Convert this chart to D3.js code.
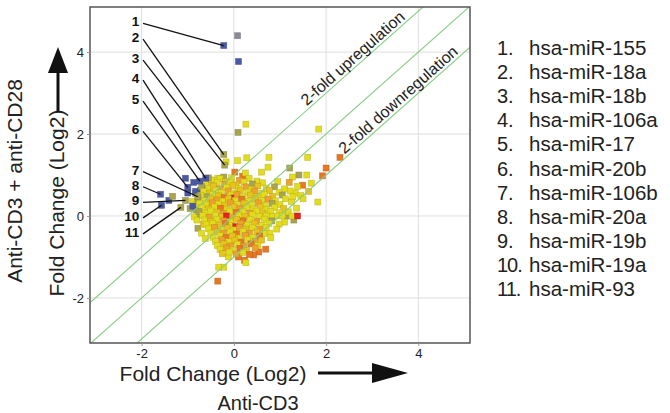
<!DOCTYPE html>
<html>
<head>
<meta charset="utf-8">
<script src="https://cdn.jsdelivr.net/npm/d3@7"></script>
<style>
body { margin: 0; background: #fff; }
svg { font-family: "Liberation Sans", Arial, sans-serif; }
</style>
</head>
<body>
<div id="viz"></div>
<script>
const width = 670, height = 413;

// axis ticks and fold-change guide lines (y = x + offset)
const ticks = [-2, 0, 2, 4];
const foldLines = [1, 0, -1];

// the 11 labelled miRNAs: name, log2 FC anti-CD3 (x), anti-CD3+CD28 (y), colour class
const mirNames = ["hsa-miR-155", "hsa-miR-18a", "hsa-miR-18b", "hsa-miR-106a", "hsa-miR-17",
  "hsa-miR-20b", "hsa-miR-106b", "hsa-miR-20a", "hsa-miR-19b", "hsa-miR-19a", "hsa-miR-93"];
const mirX = [-0.22, -0.22, -0.2, -0.61, -0.74, -1.0, -0.78, -1.59, -1.05, -1.57, -1.15];
const mirY = [4.16, 1.5, 1.24, 0.92, 0.85, 0.7, 0.47, 0.53, 0.38, 0.26, 0.21];
const mirCat = ["b", "v", "v", "b", "b", "b", "v", "b", "v", "b", "v"];
// where the numbers sit on the y scale
const labelY = [4.63, 4.24, 3.73, 3.24, 2.73, 1.99, 1.01, 0.64, 0.26, -0.12, -0.51];

// all other miRNAs [x, y, colour class]
const cloud = [
  [0.08,4.4,"k"],[0.1,3.77,"b"],[0.26,2.24,"y"],[0.09,2.04,"v"],[1.84,2.12,"y"],
  [-0.17,1.32,"y"],[0.08,1.35,"y"],[0.28,1.42,"y"],[0.76,1.43,"y"],[0.74,1.19,"y"],[1.6,1.43,"y"],[2.3,1.43,"d"],
  [0.02,1.07,"d"],[0.19,0.97,"d"],[0.25,1.05,"y"],[0.6,1.07,"y"],[1.21,1.17,"v"],[1.27,0.95,"y"],[1.41,1.0,"v"],
  [1.58,1.0,"y"],[2.0,1.17,"d"],[1.92,0.98,"d"],[1.68,0.8,"y"],[1.49,0.75,"d"],[1.38,0.72,"y"],[1.33,0.56,"y"],
  [1.45,0.5,"y"],[1.82,0.34,"y"],[1.36,0.19,"y"],[1.16,0.0,"v"],[1.25,0.35,"y"],[1.5,0.42,"y"],[1.62,0.6,"g"],
  [1.1,-0.15,"y"],[1.3,-0.1,"v"],[0.98,-0.2,"y"],[1.2,0.82,"o"],
  [0.93,-0.32,"y"],[0.78,-0.42,"y"],[0.8,-0.53,"y"],[0.69,-0.81,"d"],[0.54,-0.88,"d"],[0.43,-0.95,"d"],
  [0.23,-1.08,"d"],[0.26,-1.14,"y"],[0.1,-1.0,"d"],[-0.12,-1.0,"y"],[-0.22,-1.25,"y"],[-0.33,-1.25,"y"],[-0.35,-1.59,"d"],
  [-0.35,0.92,"y"],[-0.5,0.88,"y"],[-0.22,0.95,"v"],
  [-0.83,0.55,"v"],[-0.9,0.35,"y"],[-0.82,0.15,"v"],[-0.86,-0.02,"y"],[-0.78,-0.3,"v"],[-0.7,-0.42,"y"],
  [-0.62,-0.55,"y"],[-0.95,0.18,"v"],[-0.76,0.28,"y"],[-0.8,-0.1,"y"],[-0.66,-0.2,"g"],[-0.72,0.05,"v"],
  [-1.05,0.92,"b"],[-0.87,0.82,"b"],[-0.66,0.77,"b"],[-0.83,0.6,"b"],[-0.72,0.63,"b"],[-1.0,0.56,"b"],
  [-1.41,0.38,"b"],[-0.89,0.24,"b"],[-1.33,0.48,"v"],
  [-0.55,0.93,"v"],[-0.42,0.86,"y"],[-0.3,0.91,"y"],[-0.18,0.84,"g"],[-0.05,0.93,"y"],[0.12,0.87,"o"],[0.33,0.92,"y"],[0.5,0.85,"y"],
  [-0.62,0.79,"y"],[-0.48,0.75,"g"],[-0.36,0.82,"y"],[-0.2,0.77,"o"],[-0.08,0.81,"y"],[0.05,0.76,"g"],[0.22,0.83,"y"],[0.4,0.78,"v"],[0.62,0.81,"y"],[0.95,0.84,"y"],
  [-0.7,0.72,"v"],[-0.55,0.67,"y"],[-0.44,0.73,"g"],[-0.31,0.66,"o"],[-0.16,0.7,"y"],[-0.02,0.74,"g"],[0.1,0.67,"y"],[0.26,0.71,"o"],[0.38,0.65,"y"],[0.52,0.73,"g"],[0.7,0.68,"y"],[0.88,0.71,"v"],[1.1,0.66,"y"],
  [-0.66,0.6,"y"],[-0.52,0.56,"g"],[-0.39,0.63,"y"],[-0.27,0.57,"y"],[-0.12,0.61,"o"],[0.0,0.56,"y"],[0.14,0.63,"g"],[0.3,0.58,"y"],[0.45,0.61,"o"],[0.6,0.55,"y"],[0.77,0.62,"g"],[0.98,0.58,"y"],[1.22,0.61,"y"],
  [-0.72,0.5,"y"],[-0.58,0.47,"v"],[-0.46,0.53,"y"],[-0.33,0.49,"g"],[-0.21,0.45,"d"],[-0.06,0.51,"y"],[0.0,0.44,"r"],[0.07,0.52,"o"],[0.2,0.47,"y"],[0.36,0.51,"g"],[0.5,0.46,"y"],[0.66,0.52,"y"],[0.84,0.48,"g"],[1.05,0.51,"v"],[1.28,0.47,"y"],
  [-0.78,0.41,"v"],[-0.63,0.37,"y"],[-0.5,0.42,"g"],[-0.37,0.39,"o"],[-0.24,0.36,"y"],[-0.12,0.42,"g"],[0.03,0.38,"y"],[0.17,0.41,"d"],[0.31,0.36,"y"],[0.46,0.42,"g"],[0.6,0.38,"y"],[0.74,0.41,"o"],[0.9,0.37,"y"],[1.12,0.42,"y"],
  [-0.74,0.31,"y"],[-0.6,0.27,"y"],[-0.47,0.32,"o"],[-0.34,0.29,"y"],[-0.2,0.26,"g"],[-0.07,0.32,"o"],[0.08,0.28,"y"],[0.22,0.31,"g"],[0.38,0.27,"y"],[0.53,0.32,"o"],[0.68,0.26,"y"],[0.83,0.31,"v"],[1.0,0.28,"y"],
  [-0.7,0.21,"y"],[-0.55,0.17,"g"],[-0.42,0.22,"y"],[-0.29,0.19,"d"],[-0.15,0.16,"y"],[0.0,0.22,"g"],[0.13,0.18,"o"],[0.27,0.21,"y"],[0.42,0.17,"y"],[0.57,0.22,"g"],[0.72,0.16,"y"],[0.88,0.21,"y"],[1.08,0.18,"g"],
  [-0.76,0.11,"v"],[-0.62,0.07,"y"],[-0.5,0.12,"y"],[-0.36,0.09,"g"],[-0.23,0.06,"o"],[-0.09,0.12,"y"],[0.05,0.08,"d"],[0.19,0.11,"y"],[0.34,0.07,"o"],[0.49,0.12,"y"],[0.63,0.06,"g"],[0.8,0.11,"y"],[0.98,0.08,"y"],[1.18,0.1,"y"],
  [-0.68,0.01,"y"],[-0.53,-0.03,"o"],[-0.4,0.02,"y"],[-0.27,-0.02,"g"],[-0.16,0.0,"r"],[-0.03,-0.04,"o"],[0.1,0.02,"y"],[0.24,-0.02,"g"],[0.4,0.03,"y"],[0.55,-0.01,"y"],[0.7,0.0,"y"],[0.84,-0.01,"y"],[0.95,0.0,"y"],[1.05,0.01,"y"],[1.26,0.0,"y"],[1.38,0.0,"r"],
  [-0.64,-0.1,"y"],[-0.5,-0.13,"g"],[-0.37,-0.08,"y"],[-0.22,-0.12,"o"],[-0.08,-0.14,"y"],[0.06,-0.08,"g"],[0.2,-0.12,"d"],[0.35,-0.09,"y"],[0.5,-0.13,"o"],[0.66,-0.08,"y"],[0.82,-0.12,"v"],
  [-0.6,-0.21,"y"],[-0.46,-0.18,"y"],[-0.32,-0.22,"g"],[-0.18,-0.19,"d"],[-0.05,-0.23,"y"],[0.04,-0.26,"r"],[0.15,-0.18,"o"],[0.29,-0.22,"y"],[0.44,-0.19,"g"],[0.6,-0.23,"y"],[0.76,-0.18,"y"],
  [-0.55,-0.31,"y"],[-0.42,-0.28,"o"],[-0.28,-0.33,"y"],[-0.14,-0.29,"g"],[0.0,-0.34,"y"],[0.12,-0.28,"o"],[0.26,-0.32,"g"],[0.4,-0.29,"y"],[0.56,-0.33,"o"],[0.7,-0.28,"y"],
  [-0.5,-0.42,"y"],[-0.36,-0.38,"g"],[-0.22,-0.43,"o"],[-0.08,-0.39,"y"],[0.06,-0.44,"d"],[0.2,-0.38,"y"],[0.34,-0.42,"o"],[0.5,-0.39,"g"],[0.65,-0.43,"y"],
  [-0.45,-0.52,"y"],[-0.3,-0.48,"y"],[-0.17,-0.53,"d"],[-0.03,-0.49,"g"],[0.11,-0.54,"y"],[0.25,-0.48,"o"],[0.4,-0.52,"y"],[0.56,-0.49,"d"],
  [-0.4,-0.62,"y"],[-0.26,-0.58,"o"],[-0.12,-0.63,"y"],[0.02,-0.59,"g"],[0.16,-0.64,"d"],[0.3,-0.58,"y"],[0.46,-0.62,"o"],[0.6,-0.59,"g"],
  [-0.36,-0.72,"y"],[-0.22,-0.68,"g"],[-0.07,-0.73,"o"],[0.08,-0.69,"y"],[0.22,-0.74,"o"],[0.37,-0.68,"d"],[0.52,-0.72,"y"],
  [-0.3,-0.82,"y"],[-0.16,-0.78,"o"],[-0.02,-0.83,"y"],[0.13,-0.79,"d"],[0.28,-0.84,"g"],[0.46,-0.78,"o"],
  [-0.25,-0.92,"g"],[-0.1,-0.88,"y"],[0.05,-0.93,"o"],[0.2,-0.89,"y"],[0.34,-0.94,"d"]
];

const palette = {y: "#e3dc1e", g: "#e8c31f", o: "#eea22c", d: "#ea7622", r: "#e0251f",
  v: "#a8a54e", b: "#4b58a6", k: "#8a8a96"};

const svg = d3.select("#viz").append("svg").attr("width", width).attr("height", height);
const margin = {top: 7, right: 200, bottom: 70, left: 90};

const x = d3.scaleLinear().domain([-3.12, 5.12]).range([margin.left, width - margin.right]);
const y = d3.scaleLinear().domain([-3.1, 5.1]).range([height - margin.bottom, margin.top]);

svg.append("defs").append("clipPath").attr("id", "plot")
  .append("rect").attr("x", x.range()[0]).attr("y", y.range()[1])
  .attr("width", x.range()[1] - x.range()[0]).attr("height", y.range()[0] - y.range()[1]);

// grid
svg.append("g").selectAll("line").data(ticks).join("line")
  .attr("x1", d => x(d)).attr("x2", d => x(d))
  .attr("y1", y.range()[1]).attr("y2", y.range()[0])
  .attr("stroke", "#dedede");
svg.append("g").selectAll("line").data(ticks).join("line")
  .attr("y1", d => y(d)).attr("y2", d => y(d))
  .attr("x1", x.range()[0]).attr("x2", x.range()[1])
  .attr("stroke", "#dedede");

// points
const s = 6;
const drawSquares = (g, rows) => g.selectAll("rect").data(rows).join("rect")
  .attr("x", d => x(d[0]) - s / 2).attr("y", d => y(d[1]) - s / 2)
  .attr("width", s).attr("height", s)
  .attr("fill", d => palette[d[2]])
  .attr("stroke", d => d3.color(palette[d[2]]).darker(0.7))
  .attr("stroke-opacity", 0.6)
  .attr("stroke-width", 0.7);

svg.append("g").call(drawSquares, cloud);
svg.append("g").call(drawSquares, mirX.map((v, i) => [v, mirY[i], mirCat[i]]));

// 2-fold lines
const plotArea = svg.append("g").attr("clip-path", "url(#plot)");
plotArea.selectAll("line").data(foldLines).join("line")
  .attr("x1", d => x(-4)).attr("y1", d => y(-4 + d))
  .attr("x2", d => x(6)).attr("y2", d => y(6 + d))
  .attr("stroke", "#86cc82").attr("stroke-width", 1.1);

const angle = -Math.atan2(y(0) - y(1), x(1) - x(0)) * 180 / Math.PI;
const foldText = [["2-fold upregulation", 1.58, 1], ["2-fold downregulation", 2.4, -1]];
svg.append("g").selectAll("text").data(foldText).join("text")
  .attr("transform", d => `translate(${x(d[1])},${y(d[1] + d[2]) - 4}) rotate(${angle})`)
  .attr("font-size", 16).attr("fill", "#222")
  .text(d => d[0]);

// labels and leader lines
svg.append("g").selectAll("line").data(mirX).join("line")
  .attr("x1", x(-1.97)).attr("y1", (d, i) => y(labelY[i]) - 3)
  .attr("x2", (d, i) => x(mirX[i])).attr("y2", (d, i) => y(mirY[i]))
  .attr("stroke", "#111").attr("stroke-width", 1.3);
svg.append("g").selectAll("text").data(mirNames).join("text")
  .attr("x", x(-2.05)).attr("y", (d, i) => y(labelY[i]))
  .attr("text-anchor", "end").attr("font-size", 13.5).attr("font-weight", "bold").attr("fill", "#111")
  .text((d, i) => i + 1);

// frame
svg.append("rect")
  .attr("x", x.range()[0]).attr("y", y.range()[1])
  .attr("width", x.range()[1] - x.range()[0]).attr("height", y.range()[0] - y.range()[1])
  .attr("fill", "none").attr("stroke", "#555").attr("stroke-width", 1.5);

// axes
const yAxis = g => g
  .attr("transform", `translate(${x.range()[0]},0)`)
  .call(d3.axisLeft(y).tickValues(ticks).tickSize(3).tickFormat(d => String(d)))
  .call(g => g.select(".domain").remove());
const xAxis = g => g
  .attr("transform", `translate(0,${y.range()[0]})`)
  .call(d3.axisBottom(x).tickValues(ticks).tickSize(3).tickFormat(d => String(d)))
  .call(g => g.select(".domain").remove());
svg.append("g").call(yAxis);
svg.append("g").call(xAxis);
svg.selectAll(".tick text").attr("font-size", 13).attr("fill", "#222").attr("font-family", null);
svg.selectAll(".tick line").attr("stroke", "#999");

// axis titles and arrows
svg.append("text").attr("x", 213).attr("y", 381).attr("text-anchor", "middle")
  .attr("font-size", 21).attr("fill", "#222").text("Fold Change (Log2)");
svg.append("line").attr("x1", 318).attr("x2", 375).attr("y1", 373).attr("y2", 373)
  .attr("stroke", "#111").attr("stroke-width", 3);
svg.append("path").attr("d", "M372,363L408,373L372,383Z").attr("fill", "#111");
svg.append("text").attr("x", 258).attr("y", 410).attr("text-anchor", "middle")
  .attr("font-size", 20).attr("fill", "#222").text("Anti-CD3");

svg.append("text").attr("transform", "translate(64,203) rotate(-90)").attr("text-anchor", "middle")
  .attr("font-size", 21).attr("fill", "#222").text("Fold Change (Log2)");
svg.append("line").attr("x1", 58).attr("x2", 58).attr("y1", 112).attr("y2", 70)
  .attr("stroke", "#111").attr("stroke-width", 3);
svg.append("path").attr("d", "M48,73L58,47L68,73Z").attr("fill", "#111");
svg.append("text").attr("transform", "translate(22,181) rotate(-90)").attr("text-anchor", "middle")
  .attr("font-size", 21).attr("fill", "#222").text("Anti-CD3 + anti-CD28");

// legend
const legend = svg.append("g").selectAll("g").data(mirNames).join("g")
  .attr("transform", (d, i) => `translate(497,${55 + i * 24.1})`);
legend.append("text").attr("font-size", 20).attr("fill", "#222")
  .attr("letter-spacing", (d, i) => i >= 9 ? -1 : 0)
  .text((d, i) => (i + 1) + ".");
legend.append("text").attr("x", 32).attr("font-size", 20.5).attr("fill", "#222").text(d => d);
</script>
</body>
</html>
